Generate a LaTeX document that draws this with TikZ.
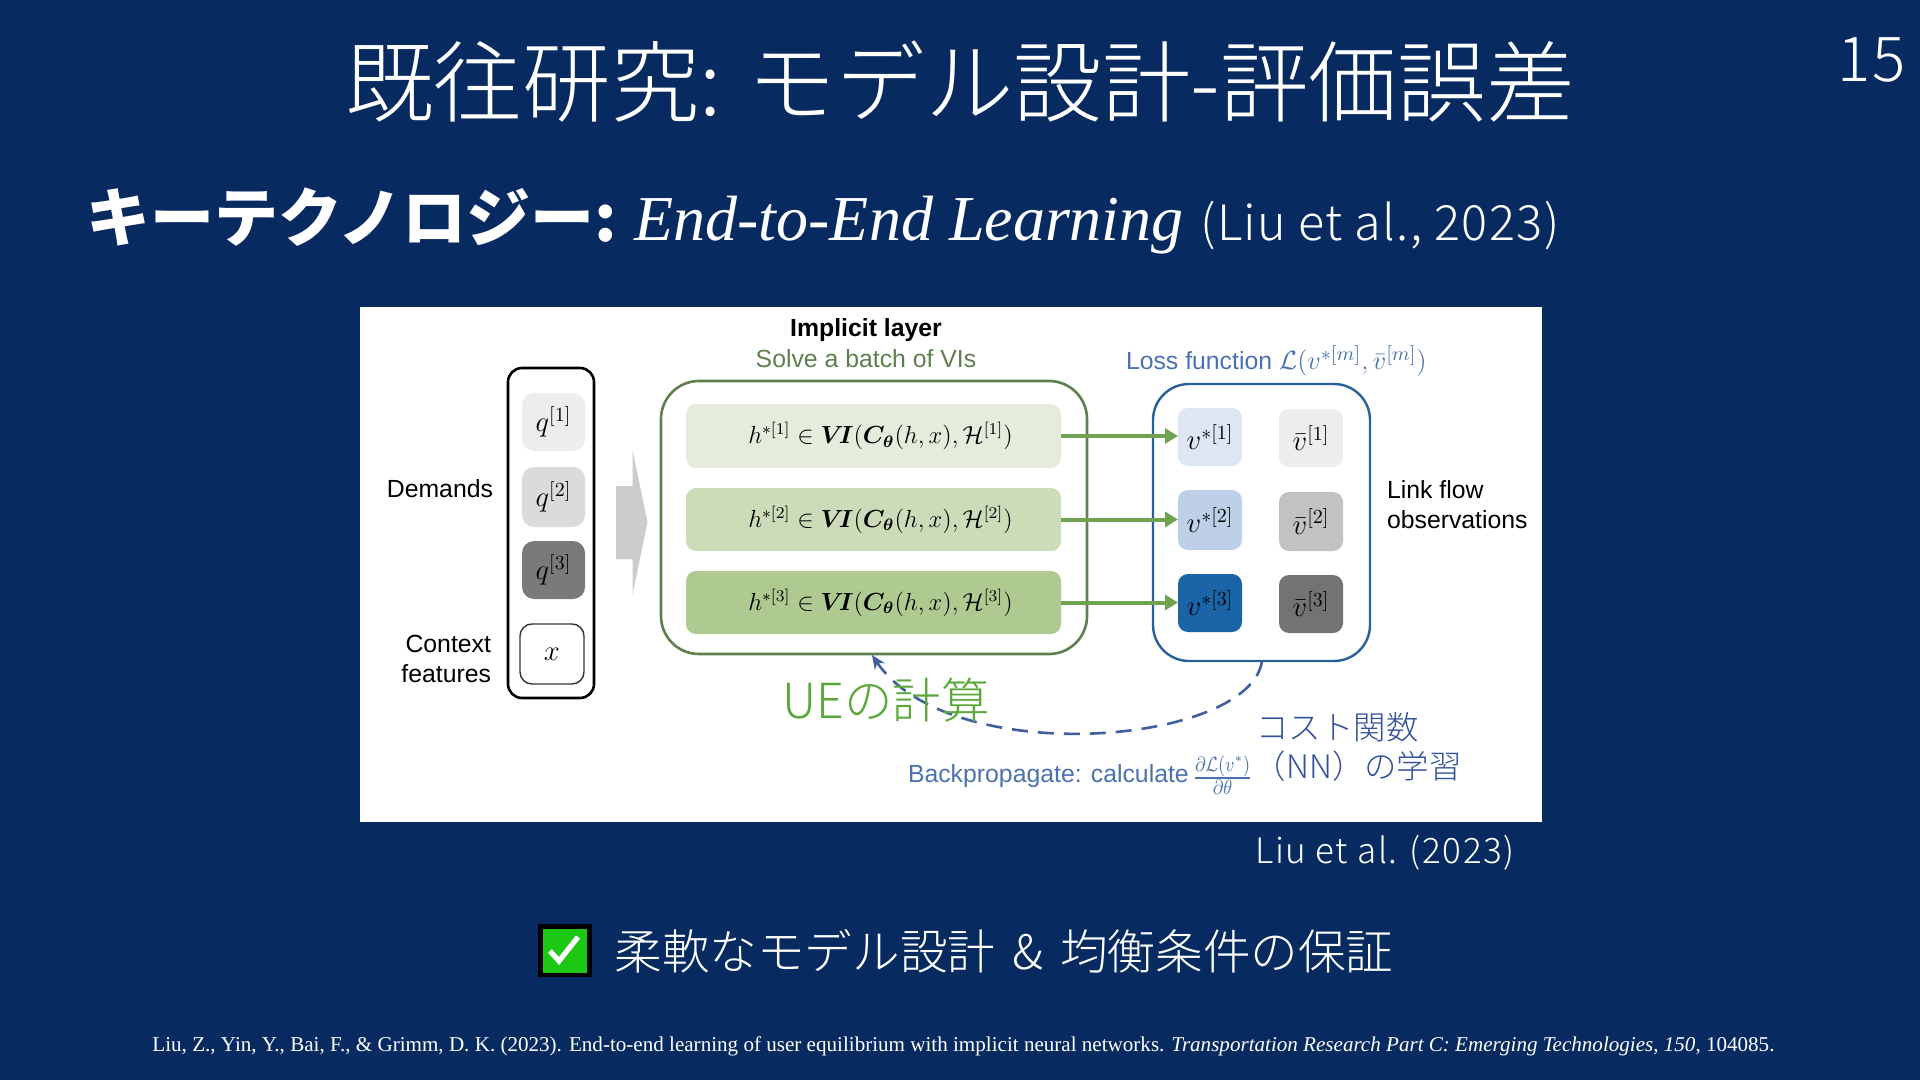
\documentclass[tikz,border=0pt]{standalone}
\usepackage{amsmath,amssymb,graphicx}
\usepackage{fontspec}
\setmainfont{Liberation Sans}
\newfontfamily\jp{Noto Sans CJK JP}
\newfontfamily\jpl{Noto Sans CJK JP Light}
\newfontfamily\jplsa[LetterSpace=2.8]{Noto Sans CJK JP Light}
\newfontfamily\jplsb[LetterSpace=4.4]{Noto Sans CJK JP Light}
\newfontfamily\tms{Liberation Serif}
\usetikzlibrary{arrows.meta}
\definecolor{bgnavy}{HTML}{072B60}
\definecolor{vgreen}{HTML}{5F7F4E}
\definecolor{lgreen}{HTML}{5AA83C}
\definecolor{flow}{HTML}{70A350}
\definecolor{lossblue}{HTML}{4A72B0}
\definecolor{dashblue}{HTML}{3F5F9F}
\definecolor{jpblue}{HTML}{33509A}
\definecolor{boxblue}{HTML}{2A6099}
\definecolor{vdark}{HTML}{1B64A8}
\definecolor{chkgreen}{HTML}{1CC814}
\definecolor{hone}{HTML}{E5ECDB}
\definecolor{htwo}{HTML}{CCDBB8}
\definecolor{hthree}{HTML}{AECA91}
\definecolor{vone}{HTML}{DEE6F3}
\definecolor{vtwo}{HTML}{BDD0E8}
\newcommand{\mm}[1]{\raisebox{-1.2pt}{$#1$}}
\newcommand{\hm}[1]{\hspace*{7pt}\raisebox{-1.2pt}{\scalebox{1.03}{$#1$}}}
\tikzset{
  x=.5pt,y=-.5pt,
  sz/.style 2 args={minimum width=#1*0.5pt,minimum height=#2*0.5pt,inner sep=0pt,outer sep=0pt},
  rbox/.style={rectangle,rounded corners=5pt,fill=#1,draw=none},
  mth/.style={font=\fontsize{14.4}{17}\selectfont},
  hmth/.style={font=\fontsize{12}{14}\selectfont},
  lab/.style={font=\fontsize{12.4}{14}\selectfont,inner sep=0pt,outer sep=0pt},
  flowarrow/.style={draw=flow,line width=2pt,-{Triangle[length=6.5pt,width=7.5pt]}},
}
\begin{document}
\begin{tikzpicture}
\useasboundingbox (0,0) rectangle (1920,1080);
\fill[bgnavy] (0,0) rectangle (1920,1080);
% slide text
\node[text=white,inner sep=0pt,font=\jpl\fontsize{44.3}{50}\selectfont] (title) at (960,82) {既往研究: モデル設計-評価誤差};
\node[text=white,inner sep=0pt,anchor=east,font=\jplsa\fontsize{31}{36}\selectfont] (pageno) at (1906,60) {15};
\node[text=white,inner sep=0pt,anchor=west,font=\jp\bfseries\fontsize{32}{36}\selectfont] (kt) at (86,217) {キーテクノロジー:};
\node[text=white,inner sep=0pt,anchor=west,font=\tms\itshape\fontsize{32}{36}\selectfont] (e2e) at (634,225) {End-to-End Learning};
\node[text=white,inner sep=0pt,anchor=west,font=\jplsa\fontsize{24.3}{30}\selectfont] (liu) at (1200,226) {(Liu et al., 2023)};
% image
\node[fill=white,sz={1182}{515},anchor=north west] (img) at (360,307) {};
\node[draw=black,line width=1.3pt,rounded corners=7pt,sz={86}{330}] (inbox) at (551,533) {};
\node[rbox=black!7,rounded corners=6pt,sz={63}{58},mth] (q1) at (553.5,422) {\mm{q^{[1]}}};
\node[rbox=black!14,rounded corners=6pt,sz={63}{60},mth] (q2) at (553.5,497) {\mm{q^{[2]}}};
\node[rbox=black!52,rounded corners=6pt,sz={63}{58},mth] (q3) at (553.5,570) {\mm{q^{[3]}}};
\node[draw=black!80,line width=.7pt,rounded corners=6pt,sz={64}{60},mth] (xb) at (552,654) {\mm{x}};
\node[lab,anchor=east] (dem) at (493,489) {Demands};
\node[lab,anchor=east] (ctx1) at (491,644) {Context};
\node[lab,anchor=east] (ctx2) at (491,674) {features};
\fill[black!20] (616,486) -- (632.5,486) -- (632.5,450) -- (647.5,522) -- (632.5,595) -- (632.5,559) -- (616,559) -- cycle;
\node[draw=vgreen,line width=1.3pt,rounded corners=19pt,sz={426}{273}] (vi) at (874,517.5) {};
\node[lab,font=\bfseries\fontsize{12.4}{14}\selectfont] (impl) at (866,330) {Implicit layer};
\node[lab,text=vgreen] (solve) at (866,359) {Solve a batch of VIs};
\node[rbox=hone,sz={375}{64},hmth] (h1) at (873.5,436) {\hm{h^{*[1]}\in \boldsymbol{V\!I}(\boldsymbol{C_\theta}(h,x),\mathcal{H}^{[1]})}};
\node[rbox=htwo,sz={375}{63},hmth] (h2) at (873.5,519.5) {\hm{h^{*[2]}\in \boldsymbol{V\!I}(\boldsymbol{C_\theta}(h,x),\mathcal{H}^{[2]})}};
\node[rbox=hthree,sz={375}{63},hmth] (h3) at (873.5,602.5) {\hm{h^{*[3]}\in \boldsymbol{V\!I}(\boldsymbol{C_\theta}(h,x),\mathcal{H}^{[3]})}};
\node[draw=boxblue,line width=1.2pt,rounded corners=18pt,sz={217}{277}] (loss) at (1261.5,522.5) {};
\node[rbox=vone,sz={64}{58},mth] (v1) at (1210,437) {\mm{v^{*[1]}}};
\node[rbox=vtwo,sz={64}{60},mth] (v2) at (1210,520) {\mm{v^{*[2]}}};
\node[rbox=vdark,sz={64}{58},mth] (v3) at (1210,603) {\mm{v^{*[3]}}};
\node[rbox=black!7,sz={64}{58},mth] (b1) at (1311,438) {\mm{\bar v^{[1]}}};
\node[rbox=black!24,sz={64}{59},mth] (b2) at (1311,521.5) {\mm{\bar v^{[2]}}};
\node[rbox=black!55,sz={64}{58},mth] (b3) at (1311,604) {\mm{\bar v^{[3]}}};
\draw[flowarrow] (h1.east) -- (h1.east -| v1.west);
\draw[flowarrow] (h2.east) -- (h2.east -| v2.west);
\draw[flowarrow] (h3.east) -- (h3.east -| v3.west);
\node[lab,text=lossblue,anchor=west] (lf) at (1126,361) {Loss function \scalebox{1.1}{$\mathcal{L}(v^{*[m]},\bar v^{[m]})$}};
\node[lab,anchor=west] (lk1) at (1387,490) {Link flow};
\node[lab,anchor=west] (lk2) at (1387,520) {observations};
\node[lab,text=lossblue,anchor=west] (bp) at (908,775) {Backpropagate: calculate\hspace{-1.5pt} \raisebox{-1pt}{\scalebox{0.98}[1.15]{$\frac{\partial\mathcal{L}(v^*)}{\partial\theta}$}}};
\coordinate (ds) at (1262,661);
\coordinate (de) at (872,655);
\draw[dashblue,line width=1.3pt,dash pattern=on 8pt off 5pt,-{Stealth[length=7pt,width=6pt]}] (ds) .. controls (1250,745) and (950,770) .. (de);
\node[inner sep=0pt,text=lgreen,anchor=west,font=\jpl\fontsize{24.2}{28}\selectfont] (ue) at (782,700) {UEの計算};
\node[inner sep=0pt,text=jpblue,anchor=west,font=\jpl\fontsize{16.2}{18}\selectfont] (cost) at (1256,727) {コスト関数};
\node[inner sep=0pt,text=jpblue,anchor=east,font=\jpl\fontsize{16.2}{18}\selectfont] (nn) at (1462,766) {（NN）の学習};
% below image
\node[text=white,inner sep=0pt,anchor=east,font=\jplsb\fontsize{17.5}{22}\selectfont] (cap) at (1515,853) {Liu et al. (2023)};
\node[fill=black,sz={54}{53}] (chkb) at (565,950.5) {};
\node[fill=chkgreen,sz={44}{44}] (chk) at (565,950.5) {};
\draw[white,line width=2.6pt] (550,951) -- (559,961) -- (578,937);
\node[text=white,inner sep=0pt,anchor=west,font=\jpl\fontsize{23.8}{28}\selectfont] (adv) at (614,951) {柔軟なモデル設計\hspace{8.6pt}\&\hspace{8.6pt}均衡条件の保証};
\node[text=white,inner sep=0pt,font=\tms\fontsize{10.54}{14}\selectfont] (cite) at (963.5,1046) {Liu, Z., Yin, Y., Bai, F., \& Grimm, D. K. (2023). End-to-end learning of user equilibrium with implicit neural networks. \textit{Transportation Research Part C: Emerging Technologies}, \textit{150}, 104085.};
\end{tikzpicture}
\end{document}
